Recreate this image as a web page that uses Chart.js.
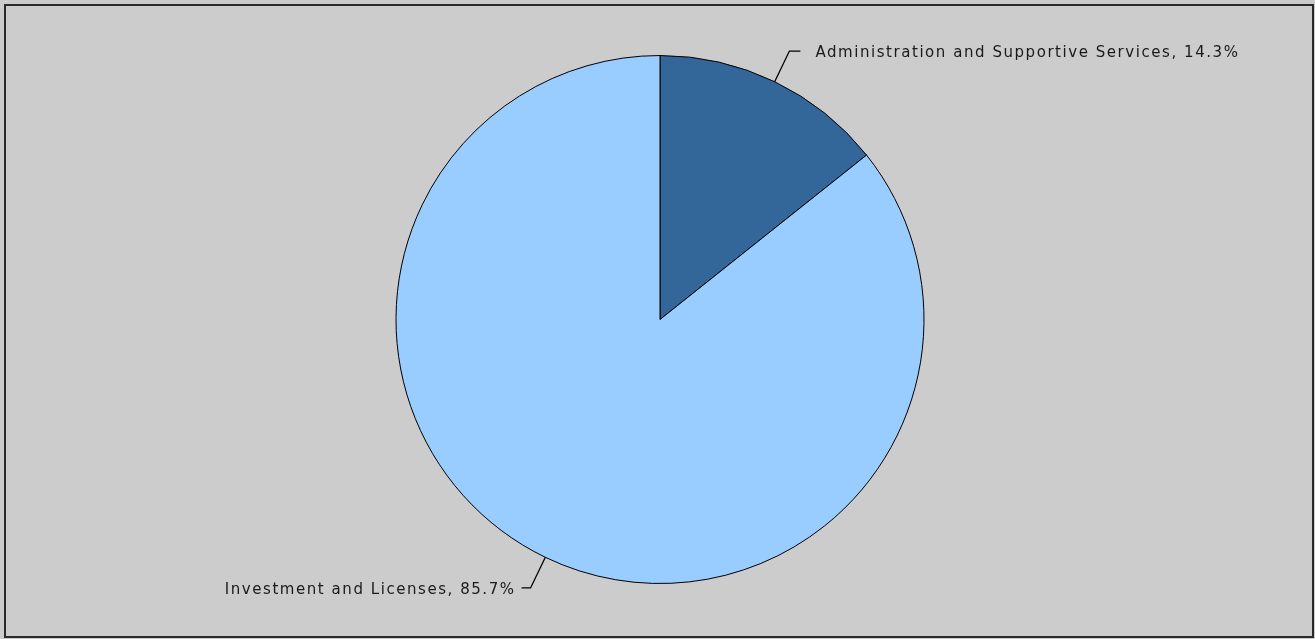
<!DOCTYPE html>
<html>
<head>
<meta charset="utf-8">
<script src="https://cdn.jsdelivr.net/npm/chart.js@4/dist/chart.umd.min.js"></script>
<style>
  html, body { margin: 0; padding: 0; background: #cccccc; }
  #wrap { width: 1315px; height: 639px; }
</style>
</head>
<body>
<div id="wrap"><canvas id="pieChart" width="1315" height="639"></canvas></div>
<script>
const categories = ["Administration and Supportive Services", "Investment and Licenses"];
const shares = [14.3, 85.7];
const sliceColors = ["#336699", "#99ccff"];

// background + frame
const frame = {
  id: "frame",
  beforeDraw(chart) {
    const ctx = chart.ctx;
    ctx.save();
    ctx.fillStyle = "#cccccc";
    ctx.fillRect(0, 0, chart.width, chart.height);
    ctx.strokeStyle = "#2a2a2a";
    ctx.lineWidth = 2;
    ctx.strokeRect(5, 5, 1308, 632);
    ctx.restore();
  }
};

// leader lines with "name, pct%" labels
const leaderLabels = {
  id: "leaderLabels",
  afterDraw(chart) {
    const ctx = chart.ctx;
    const arcs = chart.getDatasetMeta(0).data;
    ctx.save();
    ctx.font = "15px 'DejaVu Sans'";
    ctx.letterSpacing = "1.55px";
    ctx.fillStyle = "#1a1a1a";
    ctx.strokeStyle = "#000000";
    ctx.lineWidth = 1.3;
    ctx.textBaseline = "middle";
    arcs.forEach((arc, i) => {
      const p = arc.getProps(["x", "y", "startAngle", "endAngle", "outerRadius"], true);
      const mid = (p.startAngle + p.endAngle) / 2;
      const cos = Math.cos(mid), sin = Math.sin(mid);
      const x0 = p.x + cos * p.outerRadius, y0 = p.y + sin * p.outerRadius;
      const x1 = p.x + cos * (p.outerRadius + 34), y1 = p.y + sin * (p.outerRadius + 34);
      const right = cos >= 0;
      const x2 = x1 + (right ? 11 : -9);
      ctx.beginPath();
      ctx.moveTo(x0, y0);
      ctx.lineTo(x1, y1);
      ctx.lineTo(x2, y1);
      ctx.stroke();
      const label = categories[i] + ", " + shares[i].toFixed(1) + "%";
      ctx.textAlign = right ? "left" : "right";
      ctx.fillText(label, right ? x2 + 15 : x2 - 6, y1 + 2);
    });
    ctx.restore();
  }
};

new Chart(document.getElementById("pieChart"), {
  type: "pie",
  data: {
    labels: categories,
    datasets: [{
      data: shares,
      backgroundColor: sliceColors,
      borderColor: "#000000",
      borderWidth: 1
    }]
  },
  options: {
    responsive: false,
    animation: false,
    layout: { padding: { top: 55, bottom: 55, left: 5, right: 0 } },
    plugins: {
      legend: { display: false },
      tooltip: { enabled: false }
    }
  },
  plugins: [frame, leaderLabels]
});
</script>
</body>
</html>
